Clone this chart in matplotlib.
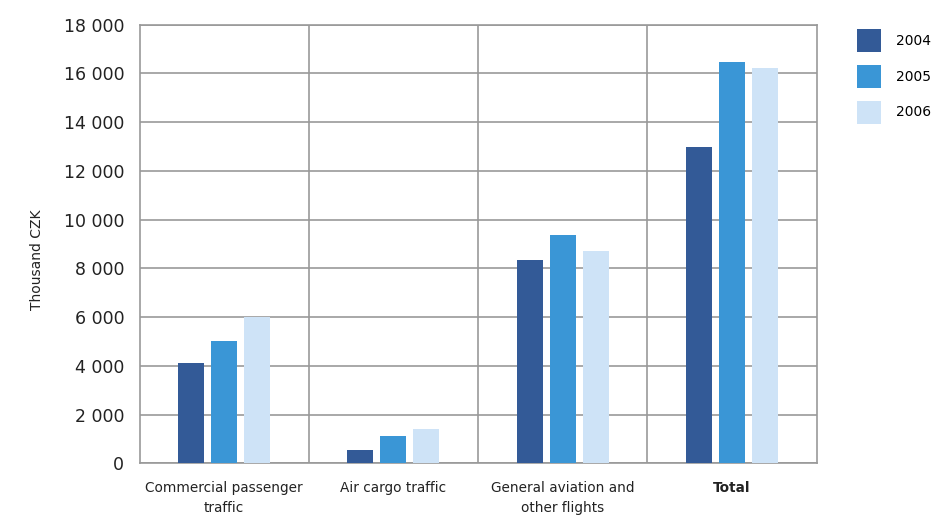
import numpy as np
import matplotlib.pyplot as plt
from matplotlib.patches import Patch

categories = ["Commercial passenger\ntraffic", "Air cargo traffic",
              "General aviation and\nother flights", "Total"]
years = ["2004", "2005", "2006"]
v2004 = [4100, 540, 8340, 12980]
v2005 = [5030, 1110, 9370, 16460]
v2006 = [6020, 1410, 8710, 16220]
colors = ["#335A97", "#3A96D6", "#CEE3F7"]

fig = plt.figure(figsize=(9.35, 5.16), dpi=100)
ax = fig.add_axes([0.1492, 0.1021, 0.7241, 0.85])

x = np.arange(len(categories))
w = 0.154
step = 0.195
for k, (vals, c) in enumerate(zip([v2004, v2005, v2006], colors)):
    ax.bar(x + (k - 1) * step, vals, width=w, color=c, zorder=3)

grid_c = "#999999"
ax.set_xlim(-0.5, 3.5)
ax.set_ylim(0, 18000)
ax.set_yticks(np.arange(0, 18001, 2000))
ax.set_yticklabels([f"{v:,}".replace(",", " ") for v in range(0, 18001, 2000)])
ax.set_xticks(x)
ax.set_xticklabels(categories, linespacing=1.55)
ax.set_xticks([0.5, 1.5, 2.5], minor=True)
ax.grid(axis="y", which="major", color=grid_c, lw=1.2, zorder=0)
ax.grid(axis="x", which="minor", color=grid_c, lw=1.2, zorder=0)
ax.tick_params(axis="both", which="both", length=0)
ax.tick_params(axis="y", labelsize=12.5, pad=11, labelcolor="#222222")
ax.tick_params(axis="x", labelsize=9.8, pad=13, labelcolor="#222222")
ax.get_xticklabels()[-1].set_fontweight("bold")
for s in ax.spines.values():
    s.set_color(grid_c)
    s.set_linewidth(1.2)

fig.text(37 / 935, 0.496, "Thousand CZK", rotation=90, ha="center", va="center",
         fontsize=10, color="#222222")

handles = [Patch(facecolor=c, edgecolor="none") for c in colors]
fig.legend(handles, years, loc="upper left", bbox_to_anchor=(857 / 935, 1 - 29 / 516),
           frameon=False, fontsize=10, handlelength=1.73, handleheight=2.2,
           labelspacing=0.9, handletextpad=1.08, borderpad=0, borderaxespad=0)

fig.savefig("out.png", dpi=100)
